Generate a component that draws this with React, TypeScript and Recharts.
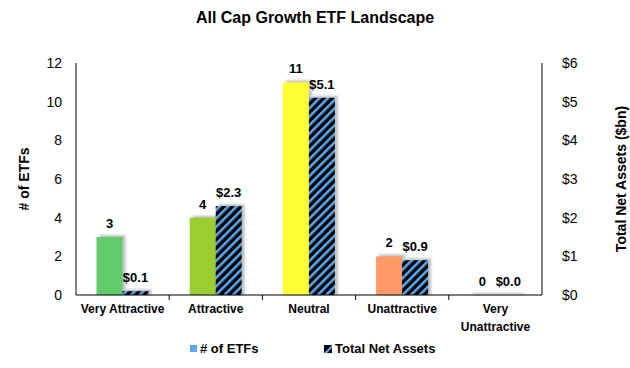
import React from 'react';
import { BarChart, Bar, XAxis, YAxis, Cell, LabelList } from 'recharts';

const categories = ['Very Attractive', 'Attractive', 'Neutral', 'Unattractive', 'Very Unattractive'];
const etfCounts = [3, 4, 11, 2, 0];
const netAssets = [0.1, 2.3, 5.1, 0.9, 0.0];
const etfColors = ['#5fcb6b', '#9acd32', '#ffff33', '#ff9966', '#e03030'];
const leftTicks = [0, 2, 4, 6, 8, 10, 12];
const rightTicks = [0, 1, 2, 3, 4, 5, 6];

const data = categories.map((name, i) => ({
  name,
  etfs: etfCounts[i],
  assets: netAssets[i],
}));

const FONT = '"Liberation Sans", Arial, sans-serif';
const W = 630;
const H = 368;
const LEFT_W = 76;
const RIGHT_W = 88;
const BAND = (W - LEFT_W - RIGHT_W) / categories.length;

// bar with a soft gray drop shadow up and to the right
const ShadowBar = (props: any) => {
  const { x, y, width, height, fill } = props;
  if (width == null) return null;
  const h = Math.max(height, 0);
  return (
    <g>
      <rect x={x + 3} y={y - 2} width={width} height={h + 2} fill="#9a9a9a" opacity={0.6} filter="url(#soft)" />
      <rect x={x} y={y} width={width} height={h} fill={fill} />
    </g>
  );
};

const CategoryTick = (props: any) => {
  const { x, y, payload, index } = props;
  const label: string = payload.value;
  const lines = label === 'Very Unattractive' ? ['Very', 'Unattractive'] : [label];
  return (
    <g>
      {index > 0 && <line x1={x - BAND / 2} x2={x - BAND / 2} y1={y - 8} y2={y - 3} stroke="#000" />}
      <text x={x} y={y + 10} textAnchor="middle" fontFamily={FONT} fontSize={12} fontWeight="bold" fill="#000">
        {lines.map((l, i) => (
          <tspan key={l} x={x} dy={i === 0 ? 0 : 18}>{l}</tspan>
        ))}
      </text>
    </g>
  );
};

const axisTitle = { fontFamily: FONT, fontSize: 14, fontWeight: 'bold', fill: '#000', textAnchor: 'middle' } as const;

const App = () => (
  <div style={{ position: 'absolute', left: 0, top: 0, width: W, height: H, background: '#fff', fontFamily: FONT }}>
    <div style={{ position: 'absolute', top: 9, left: 0, width: W, textAlign: 'center', fontSize: 16, fontWeight: 'bold' }}>
      All Cap Growth ETF Landscape
    </div>
    <BarChart
      width={W}
      height={H}
      data={data}
      margin={{ top: 63, right: 0, left: 0, bottom: 73 - 30 }}
      barGap={0}
      barCategoryGap="22%"
    >
      <defs>
        <pattern id="hatch" width="6" height="6" patternUnits="userSpaceOnUse" patternTransform="rotate(45)">
          <rect width="6" height="6" fill="#000" />
          <rect width="2.6" height="6" fill="#5ba7f0" />
        </pattern>
        <filter id="soft" x="-20%" y="-20%" width="140%" height="140%">
          <feGaussianBlur stdDeviation="0.8" />
        </filter>
      </defs>
      <XAxis
        dataKey="name"
        xAxisId={0}
        height={30}
        tickLine={false}
        axisLine={{ stroke: '#000' }}
        tick={<CategoryTick />}
        interval={0}
      />
      <YAxis
        yAxisId="left"
        orientation="left"
        width={LEFT_W}
        domain={[0, 12]}
        ticks={leftTicks}
        tickLine={false}
        axisLine={{ stroke: '#000' }}
        tick={{ fontFamily: FONT, fontSize: 14, fill: '#000' }}
        tickMargin={8}
        label={{ value: '# of ETFs', angle: -90, position: 'insideLeft', offset: 24, style: axisTitle }}
      />
      <YAxis
        yAxisId="right"
        orientation="right"
        width={RIGHT_W}
        domain={[0, 6]}
        ticks={rightTicks}
        tickLine={false}
        axisLine={{ stroke: '#000' }}
        tickFormatter={(v: number) => `$${v}`}
        tick={{ fontFamily: FONT, fontSize: 14, fill: '#000' }}
        tickMargin={14}
        label={{ value: 'Total Net Assets ($bn)', angle: -90, position: 'insideRight', offset: 9, style: axisTitle }}
      />
      <Bar dataKey="etfs" yAxisId="left" shape={<ShadowBar />} isAnimationActive={false}>
        {data.map((d, i) => (
          <Cell key={d.name} fill={etfColors[i]} />
        ))}
        <LabelList dataKey="etfs" position="top" offset={9} style={{ fontFamily: FONT, fontSize: 13, fontWeight: 'bold', fill: '#000' }} />
      </Bar>
      <Bar dataKey="assets" yAxisId="right" fill="url(#hatch)" shape={<ShadowBar />} isAnimationActive={false}>
        <LabelList
          dataKey="assets"
          position="top"
          offset={9}
          formatter={(v: number) => `$${v.toFixed(1)}`}
          style={{ fontFamily: FONT, fontSize: 13, fontWeight: 'bold', fill: '#000' }}
        />
      </Bar>
    </BarChart>
    <div style={{ position: 'absolute', top: 341, left: 190, display: 'flex', alignItems: 'center', fontSize: 13, fontWeight: 'bold' }}>
      <span style={{ display: 'inline-block', width: 7, height: 7, background: '#5ba7f0', marginRight: 3 }} />
      # of ETFs
    </div>
    <div style={{ position: 'absolute', top: 341, left: 324, display: 'flex', alignItems: 'center', fontSize: 13, fontWeight: 'bold' }}>
      <svg width={8} height={8} style={{ marginRight: 3 }}>
        <rect width={8} height={8} fill="#000" />
        <path d="M0 8 L8 0 L8 3 L3 8 Z" fill="#5ba7f0" />
      </svg>
      Total Net Assets
    </div>
  </div>
);

export default App;
